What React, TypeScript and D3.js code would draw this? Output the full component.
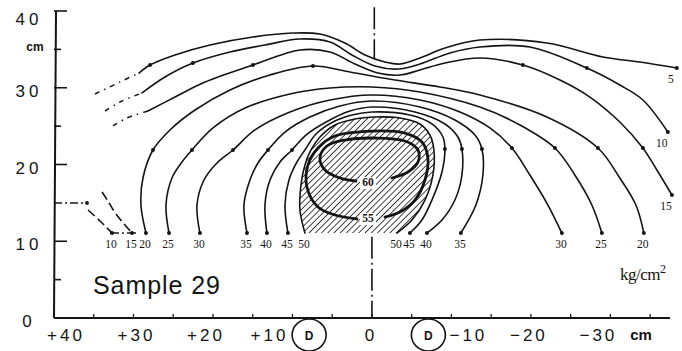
import React from 'react';
import * as d3 from 'd3';

type P = [number, number, number?];

// pressure contours in kg/cm2; points are [lateral cm, depth cm, measured?]
const c5: P[] = [[29.31, 31.92], [27.92, 32.96, 1], [24.78, 34.27], [20.38, 35.57], [14.97, 36.61], [9.94, 37.13], [6.54, 37.0], [3.4, 35.83], [0.88, 34.27], [-1.64, 33.36], [-3.52, 33.09], [-6.04, 33.88], [-9.18, 35.18], [-13.58, 36.22], [-22.01, 35.83], [-29.06, 34.01], [-33.71, 33.36], [-38.36, 32.57, 1]];
const c10: P[] = [[28.93, 29.32], [26.04, 31.4], [22.52, 33.22, 1], [17.86, 34.66], [13.46, 35.57], [9.06, 36.35], [5.28, 35.96], [2.52, 34.27], [-0.38, 32.83], [-3.27, 32.44], [-6.04, 33.09], [-9.81, 34.53], [-13.58, 35.31], [-19.87, 35.31], [-27.04, 32.57, 1], [-31.19, 30.36], [-34.09, 28.4], [-37.23, 24.23, 1]];
const c15: P[] = [[28.18, 26.97], [24.78, 28.79], [21.01, 30.75], [14.97, 32.96, 1], [9.06, 34.92], [5.28, 34.66], [2.14, 33.09], [-0.75, 31.92], [-3.52, 31.66], [-6.04, 32.31], [-9.18, 33.22], [-13.58, 33.88], [-18.99, 32.96, 1], [-23.65, 31.01], [-27.42, 28.79], [-31.19, 25.54], [-34.09, 22.15, 1], [-35.85, 19.28], [-37.74, 16.03, 1]];
const c20: P[] = [[28.43, 11.07, 1], [29.06, 14.72], [28.81, 18.24], [27.55, 21.89, 1], [25.41, 24.5], [22.26, 27.1], [17.86, 29.71], [12.83, 31.66], [7.42, 32.83, 1], [2.77, 32.05], [-2.89, 31.01], [-8.55, 30.1], [-13.58, 29.06], [-22.01, 26.19], [-28.43, 22.15, 1], [-31.19, 18.24], [-33.21, 14.72], [-34.21, 11.07, 1]];
const c25: P[] = [[25.53, 11.07, 1], [25.91, 14.72], [25.16, 18.24], [23.9, 20.33], [22.64, 21.89, 1], [20.0, 24.76], [15.97, 27.36], [10.31, 29.19], [5.28, 29.97], [0, 30.1], [-6.04, 29.45], [-13.58, 27.49], [-18.62, 25.15], [-23.02, 22.15, 1], [-25.53, 18.63], [-27.67, 14.72], [-28.93, 11.07, 1]];
const c30: P[] = [[21.64, 11.07, 1], [22.01, 14.72], [21.13, 17.98], [19.5, 20.2], [17.48, 21.89, 1], [14.72, 24.5], [10.31, 26.84], [5.28, 28.4], [0, 29.06], [-6.04, 28.4], [-11.07, 26.84], [-14.84, 24.76], [-17.61, 22.15, 1], [-19.87, 18.63], [-22.14, 14.72], [-23.9, 11.07, 1]];
const c35: P[] = [[15.72, 11.07, 1], [16.1, 14.72], [15.35, 17.98], [14.34, 20.2], [13.08, 21.89, 1], [10.94, 24.23], [7.8, 26.19], [4.03, 27.62], [0, 28.27], [-6.04, 27.49], [-10.44, 25.8], [-12.96, 23.84], [-13.84, 22.02, 1], [-13.96, 18.63], [-13.08, 14.72], [-11.19, 11.07, 1]];
const c40: P[] = [[13.21, 11.07, 1], [13.46, 14.72], [12.83, 17.98], [11.57, 20.33], [10.06, 21.89, 1], [8.3, 23.84], [5.53, 25.67], [2.77, 26.97], [0, 27.49], [-5.41, 26.84], [-9.18, 25.28], [-10.82, 23.58], [-11.32, 22.02, 1], [-11.32, 18.63], [-10.44, 15.37], [-8.81, 12.77], [-6.92, 11.07, 1]];
const c45: P[] = [[10.57, 11.07, 1], [10.94, 14.72], [10.44, 17.98], [9.43, 20.33], [8.43, 21.89], [7.04, 23.97], [4.91, 25.54], [2.52, 26.45], [0, 26.84], [-4.78, 26.45], [-7.55, 25.28], [-8.93, 23.58], [-9.18, 22.02, 1], [-8.81, 19.02], [-7.55, 15.37], [-6.29, 12.77], [-4.78, 11.07, 1]];
const c50: P[] = [[8.43, 11.07], [9.06, 14.07], [8.93, 17.33], [8.43, 19.93], [7.67, 21.89], [6.54, 23.58], [4.65, 25.15], [2.14, 25.93], [-0.38, 26.19], [-3.52, 26.06], [-6.04, 25.28], [-7.3, 23.84], [-7.8, 21.89], [-7.67, 18.63], [-6.67, 15.37], [-5.03, 12.77], [-3.14, 11.07]];
const c55: P[] = [[1.89, 12.9], [4.65, 13.42], [6.79, 14.46], [8.18, 17.07], [8.05, 19.93], [6.79, 22.15], [4.65, 23.71], [0, 24.36], [-4.15, 24.1], [-6.29, 22.93], [-7.04, 20.85], [-6.67, 17.98], [-5.41, 15.37], [-3.52, 13.81], [-1.64, 13.16]];
const c60: P[] = [[2.01, 17.85], [4.03, 18.24], [5.91, 19.28], [6.54, 20.85], [5.66, 22.41], [3.4, 23.19], [-0.38, 23.45], [-4.15, 23.06], [-5.79, 21.89], [-5.79, 20.33], [-4.53, 19.02], [-2.52, 18.24]];

// broken / dashed pieces at the left
const c5Dash: P[] = [[34.84, 29.19], [31.7, 30.75], [29.31, 31.92]];
const c10Dash: P[] = [[33.58, 26.97], [31.7, 28.14], [28.93, 29.32]];
const c15Dash: P[] = [[32.58, 25.02], [30.82, 26.06], [28.18, 26.97]];
const c10Low: P[] = [[35.72, 14.07], [34.21, 12.64], [32.7, 11.07, 1]];
const c15Low: P[] = [[33.96, 16.42], [33.21, 15.24], [32.2, 13.55], [30.19, 11.07, 1]];
const level15Mark: P[] = [[40, 15], [35.85, 15, 1]];
const baseMark: P[] = [[32.96, 11.07], [29.56, 11.07]];

const contourLevels = [5, 10, 15, 20, 25, 30, 35, 40, 45, 50];
const contourPoints = [c5, c10, c15, c20, c25, c30, c35, c40, c45, c50];

const yTicks = [0, 5, 10, 15, 20, 25, 30, 35, 40];
const yTickLabels = ['0', '10', '20', '30', '40'];
const xTicks = [35, 30, 25, 20, 15, 10, 5, 0, -5, -10, -15, -20, -25, -30, -35];
const xTickValues = [40, 30, 20, 10, 0, -10, -20, -30];
const xTickLabels = ['+40', '+30', '+20', '+10', '0', '\u221210', '\u221220', '\u221230'];
const wheelMarks = [7.9, -7.1];

export default function App() {
  const W = 682;
  const H = 351;
  const x = d3.scaleLinear().domain([40, -37.5]).range([54, 670]);
  const y = d3.scaleLinear().domain([0, 40]).range([318, 11]);
  const line = d3
    .line<P>()
    .x((d) => x(d[0]))
    .y((d) => y(d[1]))
    .curve(d3.curveCatmullRom.alpha(0.5));
  const ink = '#141414';
  // hand lettered x labels sit a little off their ticks
  const labelNudge = [12, 3, -7, -23, -1, 17, -2, -12];
  const rowY = 335;

  const contours = contourLevels.map((level, i) => ({ level, pts: contourPoints[i] }));
  const endLabels: { level: number; p: P }[] = [];
  contours.forEach((c) => {
    [c.pts[0], c.pts[c.pts.length - 1]].forEach((p) => {
      if (p[1] < 12 || p[0] < -30) endLabels.push({ level: c.level, p });
    });
  });
  endLabels.push({ level: 10, p: c10Low[c10Low.length - 1] });
  endLabels.push({ level: 15, p: c15Low[c15Low.length - 1] });

  const dots: P[] = [...contourPoints, c10Low, c15Low, level15Mark]
    .flat()
    .filter((p) => p[2]);

  const hatchPath = line(c50) + 'Z';

  return (
    <svg
      width={W}
      height={H}
      style={{ position: 'absolute', left: 0, top: 0, background: '#fff' }}
    >
      <defs>
        <pattern
          id="hatch"
          width={4.4}
          height={4.4}
          patternUnits="userSpaceOnUse"
          patternTransform="rotate(45)"
        >
          <line x1={0} y1={0} x2={0} y2={4.4} stroke={ink} strokeWidth={1.6} />
        </pattern>
        <clipPath id="zone50">
          <path d={hatchPath} />
        </clipPath>
      </defs>

      {/* hatched area above 50 kg/cm2 */}
      <rect
        x={0}
        y={0}
        width={W}
        height={H}
        fill="url(#hatch)"
        clipPath="url(#zone50)"
      />

      {/* axes */}
      <g stroke={ink} strokeWidth={2} fill="none">
        <line x1={x(40)} y1={y(0)} x2={670} y2={y(0)} />
        <line x1={x(40)} y1={y(0)} x2={x(40) + 2} y2={y(40)} />
        {yTicks
          .filter((t) => t !== 15)
          .map((t) => (
            <line
              key={t}
              x1={x(40)}
              x2={x(40) + (t % 10 === 0 ? 13 : 7)}
              y1={y(t)}
              y2={y(t)}
              strokeWidth={1.6}
            />
          ))}
        {xTicks.map((t) => (
          <line key={t} x1={x(t)} x2={x(t)} y1={y(0)} y2={y(0) - 4} strokeWidth={1.3} />
        ))}
      </g>

      {/* centre line */}
      <g stroke={ink} strokeWidth={1.6} strokeDasharray="22 4 2 4">
        <line x1={x(-0.3)} x2={x(-0.3)} y1={y(40.5)} y2={y(33.8)} />
        <line x1={x(0)} x2={x(0)} y1={y(10.6)} y2={y(0)} />
      </g>

      {/* contour lines */}
      <g fill="none" stroke={ink} strokeWidth={1.6} strokeLinecap="round">
        {contours.map((c) => (
          <path key={c.level} d={line(c.pts) || ''} />
        ))}
        <path d={line(c55) || ''} strokeWidth={2.8} />
        <path d={line(c60) || ''} strokeWidth={2.8} />
      </g>
      <g fill="none" stroke={ink} strokeWidth={1.5} strokeDasharray="5 5 1.5 5">
        <path d={line(c5Dash) || ''} />
        <path d={line(c10Dash) || ''} />
        <path d={line(c15Dash) || ''} />
        <path d={line(level15Mark) || ''} strokeDasharray="8 3 2 3" />
        <path d={line(baseMark) || ''} strokeDasharray="9 3 2 3" />
      </g>
      <g fill="none" stroke={ink} strokeWidth={1.6} strokeDasharray="9 4">
        <path d={line(c10Low) || ''} />
        <path d={line(c15Low) || ''} />
      </g>
      <g fill={ink}>
        {dots.map((p, i) => (
          <circle key={i} cx={x(p[0])} cy={y(p[1])} r={2} />
        ))}
      </g>

      {/* contour values */}
      <g
        fontFamily="'Liberation Serif', serif"
        fontSize={11.5}
        fill={ink}
        textAnchor="middle"
      >
        {endLabels.map((l, i) => (
          <text
            key={i}
            x={x(l.p[0]) + (l.p[1] > 12 ? -6 : -1)}
            y={y(l.p[1]) + 15}
          >
            {l.level}
          </text>
        ))}
        {[
          { v: 60, p: [0.5, 17.2] },
          { v: 55, p: [0.5, 12.5] },
        ].map((l) => (
          <g key={l.v}>
            <rect
              x={x(l.p[0]) - 8}
              y={y(l.p[1]) - 9}
              width={16}
              height={12}
              fill="#fff"
            />
            <text x={x(l.p[0])} y={y(l.p[1])} fontWeight="bold">
              {l.v}
            </text>
          </g>
        ))}
      </g>

      {/* axis labels */}
      <g fontFamily="'Liberation Sans', Arial, sans-serif" fill={ink}>
        {yTickLabels.map((t) => (
          <text
            key={t}
            x={29}
            y={Math.max(y(+t) + 9, 25)}
            fontSize={17}
            letterSpacing={4}
            textAnchor="middle"
          >
            {t}
          </text>
        ))}
        <text x={35} y={51} fontSize={12} fontWeight="bold" textAnchor="middle">
          cm
        </text>
        {xTickValues.map((v, i) => (
          <text
            key={v}
            x={x(v) + labelNudge[i]}
            y={rowY + 6}
            fontSize={17}
            letterSpacing={3}
            textAnchor="middle"
          >
            {xTickLabels[i]}
          </text>
        ))}
        <text x={641} y={rowY + 5} fontSize={15} fontWeight="bold" textAnchor="middle">
          cm
        </text>
        {wheelMarks.map((v) => (
          <g key={v}>
            <ellipse
              cx={x(v)}
              cy={rowY}
              rx={17}
              ry={16}
              fill="none"
              stroke={ink}
              strokeWidth={1.6}
            />
            <text x={x(v)} y={rowY + 4.5} fontSize={12} fontWeight="bold" textAnchor="middle">
              D
            </text>
          </g>
        ))}
        <text x={93} y={294} fontSize={25} textLength={127} lengthAdjust="spacing">
          Sample 29
        </text>
      </g>
      <text
        x={620}
        y={280}
        fontFamily="'Liberation Serif', serif"
        fontSize={17}
        fill={ink}
        letterSpacing={-0.5}
      >
        kg/cm<tspan fontSize={12} dy={-7}>2</tspan>
      </text>
    </svg>
  );
}
